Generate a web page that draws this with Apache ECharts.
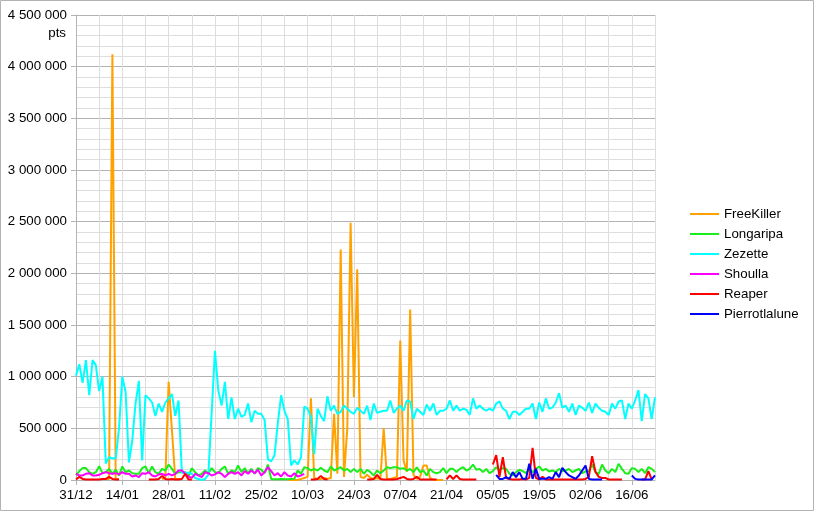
<!DOCTYPE html>
<html>
<head>
<meta charset="utf-8">
<title>pts</title>
<script src="https://cdn.jsdelivr.net/npm/echarts@6/dist/echarts.min.js"></script>
<style>
  html, body { margin: 0; padding: 0; background: #fff; }
  #chart { width: 815px; height: 512px; }
</style>
</head>
<body>
<div id="chart"></div>
<script>
// one category per day, 31/12 -> 23/06 (leap year)
const days = []
for (let i = 0; i < 176; i++) {
  const d = new Date(2019, 11, 31 + i)
  days.push(String(d.getDate()).padStart(2, '0') + '/' + String(d.getMonth() + 1).padStart(2, '0'))
}

const seriesNames = ['FreeKiller', 'Longaripa', 'Zezette', 'Shoulla', 'Reaper', 'Pierrotlalune']
const seriesColors = ['#ffa200', '#1aee1a', '#00ffff', '#ff00ff', '#ff0000', '#0000ff']

const freeKiller = [
  null, null, null, null, null, null, null, null, null, 10000,
  10000, 4120000, 10000, 10000, null, null, null, null, null, null,
  null, null, null, null, null, null, 10000, 20000, 950000, 480000,
  10000, 10000, 10000, null, null, null, null, null, null, null,
  null, null, null, null, null, null, null, null, null, null,
  null, null, null, null, null, null, null, null, null, null,
  null, null, null, null, 0, 0, 0, 0, 10000, 20000,
  30000, 790000, 20000, 10000, 10000, 20000, 10000, 20000, 640000, 60000,
  2230000, 30000, 500000, 2490000, 800000, 2040000, 30000, 20000, 50000, 20000,
  10000, 20000, 10000, 500000, 10000, 10000, 20000, 30000, 1350000, 190000,
  80000, 1650000, 50000, 10000, 30000, 140000, 140000, 20000, 0, 0,
  0, 0, null, null, null, null, null, null, null, null,
  null, null, null, null, null, null, null, null, null, null,
  null, null, null, null, null, null, null, null, null, null,
  null, null, null, null, null, null, null, null, null, null,
  null, null, null, null, null, null, null, null, null, null,
  null, null, null, null, null, null, null, null, null, null,
  null, null, null, null, null, null
]

const longaripa = [
  44000, 86000, 115000, 115000, 76000, 60000, 76000, 134000, 66000, 76000,
  108000, 60000, 99000, 44000, 131000, 76000, 92000, 66000, 60000, 60000,
  115000, 131000, 66000, 131000, 76000, 60000, 108000, 92000, 150000, 108000,
  60000, 76000, 76000, 76000, 34000, 115000, 76000, 44000, 60000, 92000,
  60000, 115000, 76000, 66000, 108000, 131000, 60000, 92000, 76000, 140000,
  76000, 115000, 66000, 108000, 60000, 115000, 99000, 66000, 150000, 10000,
  8000, 8000, 10000, 8000, 8000, 10000, 12000, 92000, 60000, 124000,
  115000, 92000, 108000, 92000, 118000, 92000, 76000, 131000, 92000, 108000,
  124000, 92000, 108000, 76000, 108000, 76000, 108000, 60000, 99000, 76000,
  44000, 92000, 66000, 92000, 124000, 115000, 124000, 124000, 108000, 115000,
  92000, 108000, 76000, 124000, 76000, 92000, 44000, 108000, 76000, 66000,
  76000, 115000, 66000, 108000, 108000, 76000, 108000, 124000, 92000, 108000,
  150000, 99000, 108000, 76000, 108000, 66000, 86000, 124000, 99000, 115000,
  108000, 60000, 44000, 76000, 99000, 86000, 66000, 108000, 76000, 108000,
  131000, 92000, 108000, 83000, 92000, 76000, 108000, 86000, 92000, 108000,
  76000, 92000, 108000, 66000, 83000, 86000, 150000, 76000, 60000, 150000,
  92000, 66000, 108000, 76000, 157000, 108000, 66000, 60000, 115000, 108000,
  76000, 108000, 66000, 124000, 108000, 76000
]

const zezette = [
  1010000, 1120000, 940000, 1160000, 820000, 1160000, 1110000, 860000, 1000000, 160000,
  220000, 210000, 210000, 500000, 1000000, 850000, 170000, 380000, 740000, 960000,
  190000, 820000, 790000, 750000, 620000, 740000, 660000, 750000, 790000, 830000,
  620000, 770000, 70000, 70000, 70000, 60000, 20000, 10000, 0, 10000,
  50000, 650000, 1250000, 870000, 720000, 950000, 590000, 800000, 590000, 690000,
  610000, 630000, 740000, 560000, 670000, 640000, 640000, 580000, 200000, 180000,
  240000, 550000, 820000, 670000, 590000, 140000, 190000, 150000, 220000, 710000,
  690000, 610000, 250000, 690000, 620000, 570000, 810000, 670000, 720000, 640000,
  660000, 720000, 690000, 660000, 640000, 700000, 670000, 640000, 720000, 580000,
  740000, 650000, 660000, 670000, 670000, 770000, 650000, 690000, 720000, 670000,
  770000, 760000, 590000, 690000, 660000, 630000, 730000, 670000, 740000, 630000,
  670000, 670000, 690000, 770000, 670000, 720000, 670000, 690000, 680000, 630000,
  790000, 690000, 720000, 690000, 670000, 690000, 670000, 740000, 760000, 690000,
  670000, 590000, 660000, 660000, 630000, 660000, 690000, 690000, 740000, 590000,
  750000, 660000, 790000, 690000, 700000, 750000, 840000, 700000, 720000, 660000,
  740000, 630000, 720000, 700000, 670000, 750000, 650000, 740000, 700000, 670000,
  660000, 630000, 740000, 690000, 760000, 770000, 590000, 740000, 690000, 770000,
  870000, 570000, 830000, 790000, 590000, 800000
]

const shoulla = [
  60000, 44000, 44000, 60000, 66000, 44000, 44000, 50000, 66000, 76000,
  66000, 60000, 66000, 54000, 76000, 60000, 60000, 34000, 44000, 28000,
  66000, 60000, 76000, 44000, 34000, 54000, 60000, 44000, 60000, 44000,
  60000, 92000, 92000, 60000, 34000, 21000, 60000, 44000, 28000, 76000,
  66000, 44000, 54000, 76000, 60000, 28000, 60000, 76000, 60000, 76000,
  44000, 86000, 60000, 92000, 66000, 99000, 44000, 76000, 124000, 86000,
  44000, 66000, 34000, 76000, 44000, 34000, 66000, 34000, 44000, 60000,
  null, null, null, null, null, null, null, null, null, null,
  null, null, null, null, null, null, null, null, null, null,
  null, null, null, null, null, null, null, null, null, null,
  null, null, null, null, null, null, null, null, null, null,
  null, null, null, null, null, null, null, null, null, null,
  null, null, null, null, null, null, null, null, null, null,
  null, null, null, null, null, null, null, null, null, null,
  null, null, null, null, null, null, null, null, null, null,
  null, null, null, null, null, null, null, null, null, null,
  null, null, null, null, null, null, null, null, null, null,
  null, null, null, null, null, null
]

const reaper = [
  5000, 30000, 10000, 5000, 5000, 5000, 5000, 5000, 10000, 10000,
  30000, 10000, 5000, 5000, null, null, null, null, null, null,
  null, null, 5000, 5000, 5000, 10000, 40000, 10000, 5000, 10000,
  5000, 5000, 10000, 60000, 5000, 5000, null, null, null, null,
  null, null, null, null, null, null, null, null, null, null,
  null, null, null, null, null, null, null, null, null, null,
  null, null, null, null, null, null, null, null, null, null,
  null, 5000, 5000, 10000, 40000, 10000, 5000, null, null, null,
  null, null, null, null, null, null, null, null, 5000, 5000,
  10000, 50000, 10000, 5000, 5000, 5000, 5000, 10000, 20000, 30000,
  10000, 5000, 10000, 30000, 5000, 5000, 5000, 5000, 5000, 5000,
  null, null, 5000, 45000, 10000, 45000, 10000, 5000, 5000, 5000,
  5000, 5000, null, null, null, null, 150000, 240000, 30000, 220000,
  20000, 10000, 5000, 5000, 5000, 10000, 5000, 20000, 310000, 20000,
  5000, 30000, 5000, 5000, 5000, 5000, 5000, 5000, 5000, 5000,
  5000, 5000, 5000, 5000, 10000, 30000, 230000, 80000, 30000, 20000,
  20000, 5000, 5000, 5000, 5000, 5000, null, null, null, null,
  null, 5000, 5000, 85000, 5000, null
]

const pierrotlalune = [
  null, null, null, null, null, null, null, null, null, null,
  null, null, null, null, null, null, null, null, null, null,
  null, null, null, null, null, null, null, null, null, null,
  null, null, null, null, null, null, null, null, null, null,
  null, null, null, null, null, null, null, null, null, null,
  null, null, null, null, null, null, null, null, null, null,
  null, null, null, null, null, null, null, null, null, null,
  null, null, null, null, null, null, null, null, null, null,
  null, null, null, null, null, null, null, null, null, null,
  null, null, null, null, null, null, null, null, null, null,
  null, null, null, null, null, null, null, null, null, null,
  null, null, null, null, null, null, null, null, null, null,
  null, null, null, null, null, null, null, 50000, 10000, 10000,
  28000, 11000, 76000, 28000, 76000, 11000, 11000, 157000, 11000, 108000,
  11000, 11000, 11000, 28000, 11000, 76000, 28000, 118000, 76000, 44000,
  28000, 11000, 44000, 92000, 140000, 11000, 5000, 5000, 5000, 5000,
  null, null, null, null, null, null, null, null, 44000, 11000,
  5000, 5000, 5000, 5000, 5000, 44000
]

const seriesData = [freeKiller, longaripa, zezette, shoulla, reaper, pierrotlalune]

const font = 'Liberation Sans'
const fontSize = 13.3
const chart = echarts.init(document.getElementById('chart'), null, { renderer: 'canvas' })

chart.setOption({
  animation: false,
  backgroundColor: '#fff',
  textStyle: { fontFamily: font },
  grid: { left: 76, right: 160, top: 15, bottom: 32 },
  graphic: [
    {
      type: 'rect',
      shape: { x: 0.5, y: 0.5, width: 813, height: 510 },
      style: { fill: 'none', stroke: '#b3b3b3', lineWidth: 1 },
      silent: true
    },
    {
      type: 'text',
      style: { text: 'pts', x: 66, y: 33, align: 'right', verticalAlign: 'middle', font: '13.3px "Liberation Sans"', fill: '#000' }
    }
  ],
  legend: {
    orient: 'vertical',
    left: 690,
    top: 207,
    padding: 0,
    icon: 'rect',
    itemWidth: 29,
    itemHeight: 2,
    itemGap: 6,
    data: seriesNames,
    textStyle: { fontFamily: font, fontSize: fontSize, color: '#000', lineHeight: 14 }
  },
  xAxis: {
    type: 'category',
    data: days,
    boundaryGap: false,
    axisLine: { lineStyle: { color: '#b3b3b3', width: 1 } },
    axisTick: { show: true, interval: 13, length: 5, lineStyle: { color: '#b3b3b3' } },
    axisLabel: { interval: 13, margin: 9, color: '#000', fontSize: fontSize, fontFamily: font },
    splitLine: { show: true, interval: 6, lineStyle: { color: '#dddddd', width: 1 } }
  },
  yAxis: {
    type: 'value',
    min: 0,
    max: 4500000,
    interval: 500000,
    axisLine: { show: true, lineStyle: { color: '#b3b3b3', width: 1 } },
    axisTick: { show: true, length: 5, lineStyle: { color: '#b3b3b3' } },
    axisLabel: {
      margin: 9,
      color: '#000',
      fontSize: fontSize,
      fontFamily: font,
      formatter: function(v) {
        return String(v).replace(/\B(?=(\d{3})+(?!\d))/g, ' ')
      }
    },
    splitLine: { show: true, lineStyle: { color: '#b3b3b3', width: 1 } },
    minorTick: { show: false, splitNumber: 5 },
    minorSplitLine: { show: true, lineStyle: { color: '#dddddd', width: 1 } }
  },
  series: seriesNames.map(function(name, i) {
    return {
      name: name,
      type: 'line',
      data: seriesData[i],
      symbol: 'none',
      connectNulls: false,
      lineStyle: { width: 2, color: seriesColors[i] },
      itemStyle: { color: seriesColors[i] }
    }
  })
})
</script>
</body>
</html>
